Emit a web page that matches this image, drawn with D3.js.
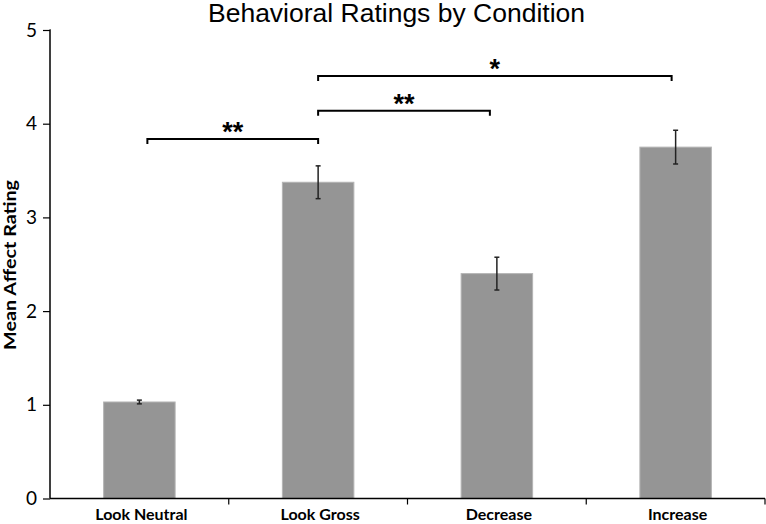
<!DOCTYPE html>
<html><head><meta charset="utf-8">
<script src="https://cdn.jsdelivr.net/npm/d3@7"></script>
<style>body{margin:0;background:#fff}svg{display:block}</style>
</head><body>
<svg id="c" width="766" height="524"></svg>
<script>
const categories = ["Look Neutral", "Look Gross", "Decrease", "Increase"];
const means = [1.03, 3.375, 2.40, 3.75];
const errors = [0.02, 0.175, 0.175, 0.18];
const yTicks = [0, 1, 2, 3, 4, 5];
const sigFrom = ["Look Neutral", "Look Gross", "Look Gross"];
const sigTo = ["Look Gross", "Decrease", "Increase"];
const sigLevel = [3.837, 4.139, 4.509];
const sigLabel = ["**", "**", "*"];

const svg = d3.select("#c");
const m = {left: 50, right: 1, top: 30, bottom: 25.5};
const W = 766, H = 524;
const x = d3.scaleBand().domain(categories).range([m.left, W - m.right]).paddingInner(0).paddingOuter(0);
const y = d3.scaleLinear().domain([0, 5]).range([H - m.bottom, m.top]);
const bw = x.bandwidth() * 0.4;
const cx = c => x(c) + x.bandwidth() / 2;

// bars
svg.append("g").selectAll("rect").data(categories).join("rect")
  .attr("x", c => cx(c) - bw / 2).attr("width", bw)
  .attr("y", (c, i) => y(means[i])).attr("height", (c, i) => y(0) - y(means[i]))
  .attr("fill", "#959595").attr("stroke", "#b4b4b4").attr("stroke-width", 1);

// error bars
const eg = svg.append("g").attr("stroke", "#222").attr("stroke-width", 1.5);
categories.forEach((c, i) => {
  const xc = cx(c);
  const t = y(means[i] + errors[i]), b = y(means[i] - errors[i]);
  eg.append("line").attr("x1", xc).attr("x2", xc).attr("y1", t).attr("y2", b);
  eg.append("line").attr("x1", xc - 2.5).attr("x2", xc + 2.5).attr("y1", t).attr("y2", t);
  eg.append("line").attr("x1", xc - 2.5).attr("x2", xc + 2.5).attr("y1", b).attr("y2", b);
});

// y axis
const ya = svg.append("g").attr("transform", `translate(${m.left},0)`)
  .call(d3.axisLeft(y).tickValues(yTicks).tickFormat(d3.format("d")).tickSize(7).tickPadding(6));
ya.select(".domain").attr("stroke", "#000").attr("stroke-width", 1.5).attr("d", `M-0.5,${y(5)}H0V${y(0)}`);
ya.selectAll(".tick line").attr("stroke", "#000").attr("stroke-width", 1.2);
ya.selectAll(".tick text").attr("font-family", "Lato, 'Open Sans', sans-serif").attr("font-size", 19).attr("fill", "#000");

// x axis
const xa = svg.append("g").attr("transform", `translate(0,${y(0)})`);
xa.append("line").attr("x1", m.left).attr("x2", W - m.right).attr("stroke", "#000").attr("stroke-width", 1.5);
xa.selectAll(".bt").data(categories).join("line").attr("class", "bt")
  .attr("x1", c => x(c) + x.bandwidth()).attr("x2", c => x(c) + x.bandwidth())
  .attr("y1", 0).attr("y2", 6).attr("stroke", "#000").attr("stroke-width", 1.2);
xa.selectAll("text").data(categories).join("text")
  .attr("x", c => cx(c) + 2).attr("y", 21)
  .attr("text-anchor", "middle").attr("font-family", "Lato, 'Open Sans', sans-serif")
  .attr("font-weight", "bold").attr("font-size", 16).attr("fill", "#000").text(c => c);

// significance brackets
const sg = svg.append("g");
sigLabel.forEach((lab, i) => {
  const x1 = cx(sigFrom[i]) + (i === 0 ? 8 : 0), x2 = cx(sigTo[i]) - (i === 2 ? 4 : 0) - (i === 1 ? 7 : 0);
  const yy = y(sigLevel[i]);
  sg.append("path").attr("d", `M${x1},${yy + 5}V${yy}H${x2}V${yy + 5}`)
    .attr("fill", "none").attr("stroke", "#000").attr("stroke-width", 2);
  sg.append("text").attr("x", (x1 + x2) / 2).attr("y", yy + 2)
    .attr("text-anchor", "middle").attr("font-family", "'Liberation Sans', Arial, sans-serif")
    .attr("font-weight", "bold").attr("font-size", 27).attr("fill", "#000").text(lab);
});

// title
svg.append("text").attr("x", 396.5).attr("y", 22).attr("text-anchor", "middle")
  .attr("font-family", "'Liberation Sans', Arial, sans-serif").attr("font-size", 25.5).attr("fill", "#000")
  .attr("textLength", 377).attr("lengthAdjust", "spacingAndGlyphs")
  .text("Behavioral Ratings by Condition");

// y label
svg.append("text").attr("transform", `translate(16,265) rotate(-90)`).attr("text-anchor", "middle")
  .attr("font-family", "Lato, 'Open Sans', sans-serif").attr("font-weight", "bold").attr("font-size", 17)
  .attr("textLength", 170).attr("lengthAdjust", "spacingAndGlyphs")
  .attr("fill", "#000").text("Mean Affect Rating");
</script>
</body></html>
